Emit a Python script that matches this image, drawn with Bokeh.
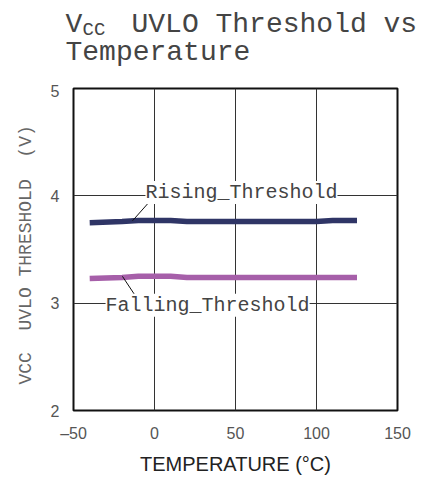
from bokeh.plotting import figure
from bokeh.layouts import column
from bokeh.models import Label, Range1d, FixedTicker
from bokeh.core.properties import value
from bokeh.embed import file_html
from bokeh.resources import INLINE

# Data
temperature = [-40, -20, -10, 0, 10, 20, 30, 50, 70, 90, 100, 110, 125]
rising_threshold = [3.75, 3.76, 3.77, 3.77, 3.77, 3.76, 3.76, 3.76, 3.76, 3.76, 3.76, 3.77, 3.77]
falling_threshold = [3.23, 3.24, 3.25, 3.25, 3.25, 3.24, 3.24, 3.24, 3.24, 3.24, 3.24, 3.24, 3.24]

x_ticks = [-50, 0, 50, 100, 150]
x_tick_labels = ["\u201350", "0", "50", "100", "150"]
y_ticks = [2, 3, 4, 5]

title_main = "UVLO Threshold vs"
title_line2 = "Temperature"
y_label = "VCC\u00a0\u00a0UVLO THRESHOLD\u00a0\u00a0(V)\u00a0"

# annotation anchors (data coords)
rising_label_pos = (-5.6, 4.03)
rising_leader = ((-3.7, 3.935), (-13.6, 3.767))
falling_label_pos = (-30.2, 2.98)
falling_leader = ((-12.3, 3.08), (-19.8, 3.25))

mono = "Liberation Mono"
sans = "Liberation Sans"
W = 421

# ---- title figure (pixel space) ----
t = figure(width=W, height=84, output_backend="svg", toolbar_location=None,
           x_range=Range1d(0, W), y_range=Range1d(84, 0),
           min_border=0, outline_line_color=None)
t.frame_align = False
t.axis.visible = False
t.grid.visible = False
t.text(x=[65], y=[24], text=["V"], text_font=value(mono), text_font_size="28px",
       text_color="#444444", text_baseline="alphabetic")
t.text(x=[82], y=[29], text=["CC"], text_font=value(mono), text_font_size="19px",
       text_color="#444444", text_baseline="alphabetic")
t.text(x=[131], y=[24], text=[title_main], text_font=value(mono), text_font_size="28px",
       text_color="#444444", text_baseline="alphabetic")
t.text(x=[65], y=[52], text=[title_line2], text_font=value(mono), text_font_size="28px",
       text_color="#444444", text_baseline="alphabetic")

# ---- main figure ----
p = figure(width=W, height=396, output_backend="svg", toolbar_location=None,
           x_range=Range1d(-50, 150), y_range=Range1d(2, 5),
           min_border_left=73, min_border_right=W - 397, min_border_top=4, min_border_bottom=70)
p.frame_align = False

p.background_fill_color = "white"
p.outline_line_color = "#111111"
p.outline_line_width = 2

for ax in (p.xaxis[0], p.yaxis[0]):
    ax.axis_line_color = None
    ax.major_tick_line_color = None
    ax.minor_tick_line_color = None
    ax.major_label_text_font = sans
    ax.major_label_text_font_size = "16px"
    ax.major_label_text_color = "#555555"

p.xaxis.ticker = FixedTicker(ticks=x_ticks)
p.xaxis.major_label_overrides = {t_: l for t_, l in zip(x_ticks, x_tick_labels)}
p.yaxis.ticker = FixedTicker(ticks=y_ticks)
p.xaxis.major_label_standoff = 8
p.yaxis.major_label_standoff = 8

p.xaxis.axis_label = "TEMPERATURE (\u00b0C)"
p.xaxis.axis_label_text_font = sans
p.xaxis.axis_label_text_font_style = "normal"
p.xaxis.axis_label_text_font_size = "20px"
p.xaxis.axis_label_text_color = "#222222"
p.xaxis.axis_label_standoff = 8

p.yaxis.axis_label = y_label
p.yaxis.axis_label_text_font = mono
p.yaxis.axis_label_text_font_style = "normal"
p.yaxis.axis_label_text_font_size = "18px"
p.yaxis.axis_label_text_color = "#666666"
p.yaxis.axis_label_standoff = 12

p.xgrid.grid_line_color = "#333333"
p.ygrid.grid_line_color = "#333333"
p.xgrid.grid_line_width = 1
p.ygrid.grid_line_width = 1

p.line(temperature, rising_threshold, line_color="#2f3566", line_width=5.5)
p.line(temperature, falling_threshold, line_color="#a65fa9", line_width=5.5)

# leader lines
p.segment(x0=[rising_leader[0][0], falling_leader[0][0]],
          y0=[rising_leader[0][1], falling_leader[0][1]],
          x1=[rising_leader[1][0], falling_leader[1][0]],
          y1=[rising_leader[1][1], falling_leader[1][1]],
          line_color="#111111", line_width=1)

for txt, pos in (("Rising_Threshold", rising_label_pos), ("Falling_Threshold", falling_label_pos)):
    p.add_layout(Label(x=pos[0], y=pos[1], text=txt, text_font=mono, text_font_size="20px",
                       text_color="#444444", text_baseline="middle", text_align="left",
                       background_fill_color="white"))

layout = column(t, p, spacing=0)
open("out.html", "w").write(file_html(layout, INLINE))
